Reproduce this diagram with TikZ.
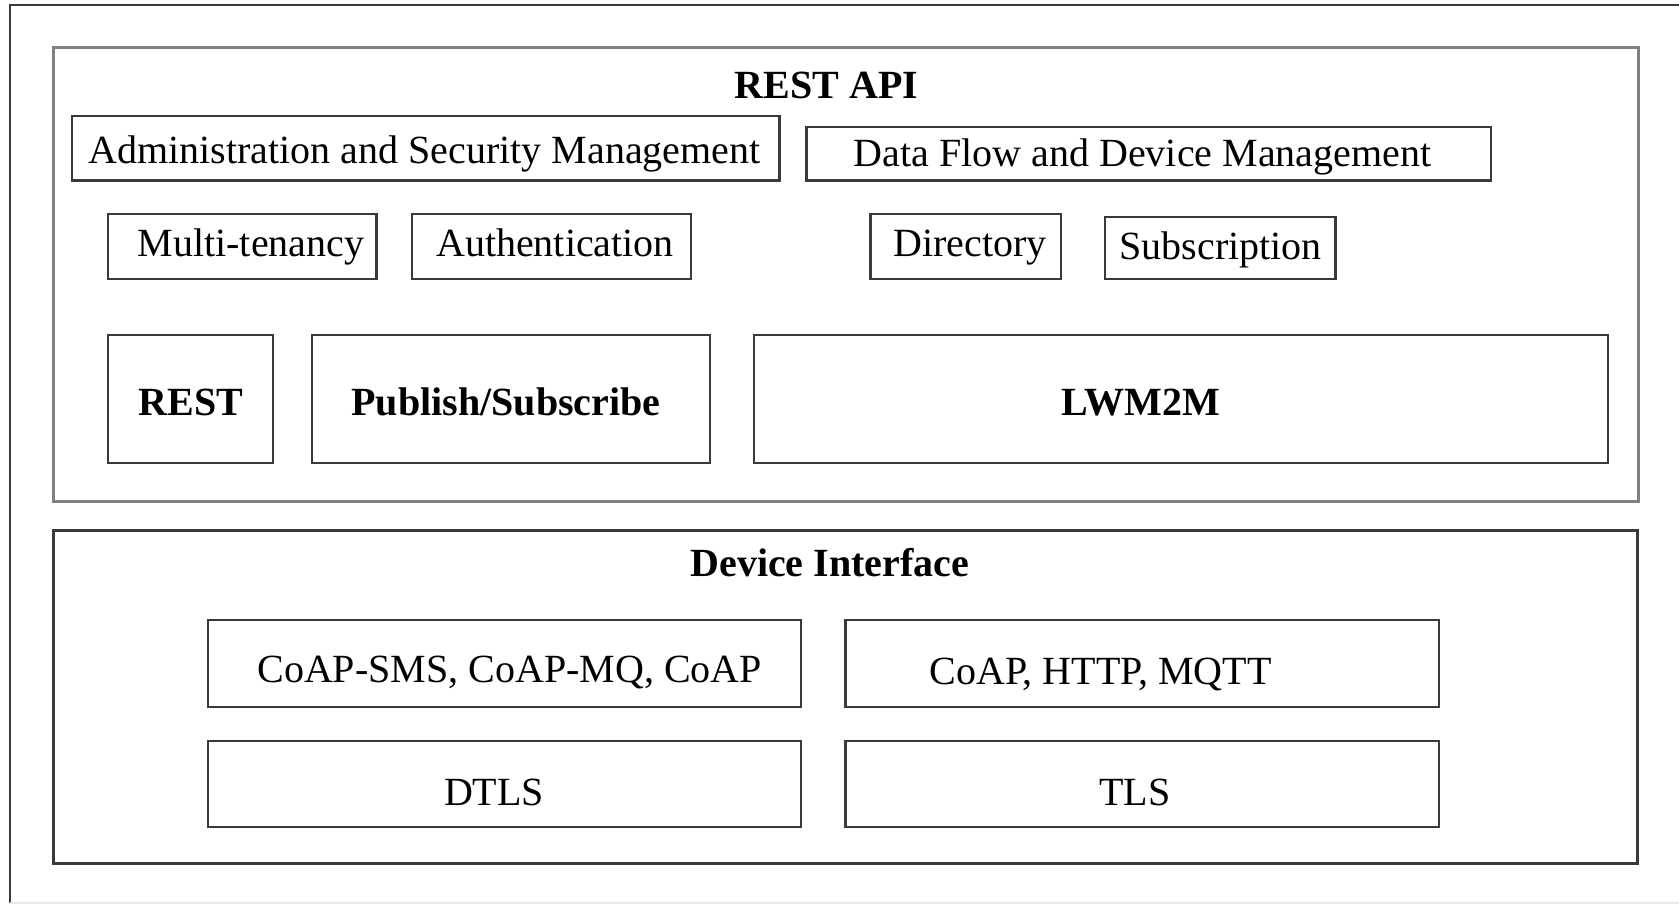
\documentclass[tikz,border=0pt]{standalone}
\usepackage{fontspec}
\setmainfont{Liberation Serif}
\usetikzlibrary{fit}

\definecolor{edgedark}{HTML}{3A3A3A}
\definecolor{edgegray}{HTML}{808080}
\definecolor{edgefaint}{HTML}{E8E8E8}

\tikzset{
  px/.style={x=0.5pt, y=-0.5pt},
  layerbox/.style={draw=#1, line width=1.5pt, inner sep=0pt, fill=none},
  partbox/.style={draw=edgedark, line width=1.1pt, inner sep=0pt},
  lbl/.style={inner sep=0pt, anchor=base, font=\fontsize{20}{24}\selectfont},
  title/.style={lbl, font=\fontsize{20}{24}\selectfont\bfseries},
}

\begin{document}
\begin{tikzpicture}[px]
\useasboundingbox (0,0) rectangle (1679,904);

% surrounding frame (open on the right)
\coordinate (fTR) at (1690,5);
\coordinate (fTL) at (10,5);
\coordinate (fBL) at (10,902.5);
\coordinate (fBR) at (1690,902.5);
\draw[edgedark, line width=1pt] (fTR) -- (fTL) -- (fBL);
\draw[edgefaint, line width=1pt] (fBL) -- (fBR);

% ---------- REST API layer ----------
\node[layerbox=edgegray, fit={(53,48) (1638,501)}] (restapi) {};
\node[title] (restapiT) at (826.6,98) {REST API};

\node[partbox, fit={(72,116) (779.5,180.5)}] (admin) {};
\node[lbl] (adminT) at (424.4,163.3) {Administration and Security Management};
\node[partbox, fit={(806.5,127) (1491,180.5)}] (dataflow) {};
\node[lbl] (dataflowT) at (1142.6,166.5) {Data Flow and Device Management};

\node[partbox, fit={(108,214) (376.5,279.3)}] (multi) {};
\node[lbl] (multiT) at (251,256.7) {Multi-tenancy};
\node[partbox, fit={(412,214) (691,279.3)}] (auth) {};
\node[lbl] (authT) at (555,256.7) {Authentication};
\node[partbox, fit={(870.5,214) (1060.7,279.3)}] (dir) {};
\node[lbl] (dirT) at (970,256.7) {Directory};
\node[partbox, fit={(1105,216.7) (1335.5,279.3)}] (subs) {};
\node[lbl] (subsT) at (1220.8,259) {Subscription};

\node[partbox, fit={(108,335) (273,463.3)}] (rest) {};
\node[title] (restT) at (191,415) {REST};
\node[partbox, fit={(311.8,335) (709.8,463.3)}] (pubsub) {};
\node[title] (pubsubT) at (506,415) {Publish/Subscribe};
\node[partbox, fit={(754.3,335) (1608.3,463.3)}] (lwm) {};
\node[title] (lwmT) at (1140.6,415) {LWM2M};

% ---------- Device Interface layer ----------
\node[layerbox=edgedark, fit={(53,530) (1637,863.5)}] (device) {};
\node[title] (deviceT) at (829.8,576.7) {Device Interface};

\node[partbox, fit={(207.8,620) (800.8,706.7)}] (coapsms) {};
\node[lbl] (coapsmsT) at (509.7,682.7) {CoAP-SMS, CoAP-MQ, CoAP};
\node[partbox, fit={(207.8,740.7) (800.8,827.3)}] (dtls) {};
\node[lbl] (dtlsT) at (494,805) {DTLS};
\node[partbox, fit={(845.4,620) (1438.8,706.7)}] (coaphttp) {};
\node[lbl] (coaphttpT) at (1100.6,684) {CoAP, HTTP, MQTT};
\node[partbox, fit={(845.4,740.7) (1438.8,827.3)}] (tls) {};
\node[lbl] (tlsT) at (1135,805) {TLS};
\end{tikzpicture}
\end{document}
